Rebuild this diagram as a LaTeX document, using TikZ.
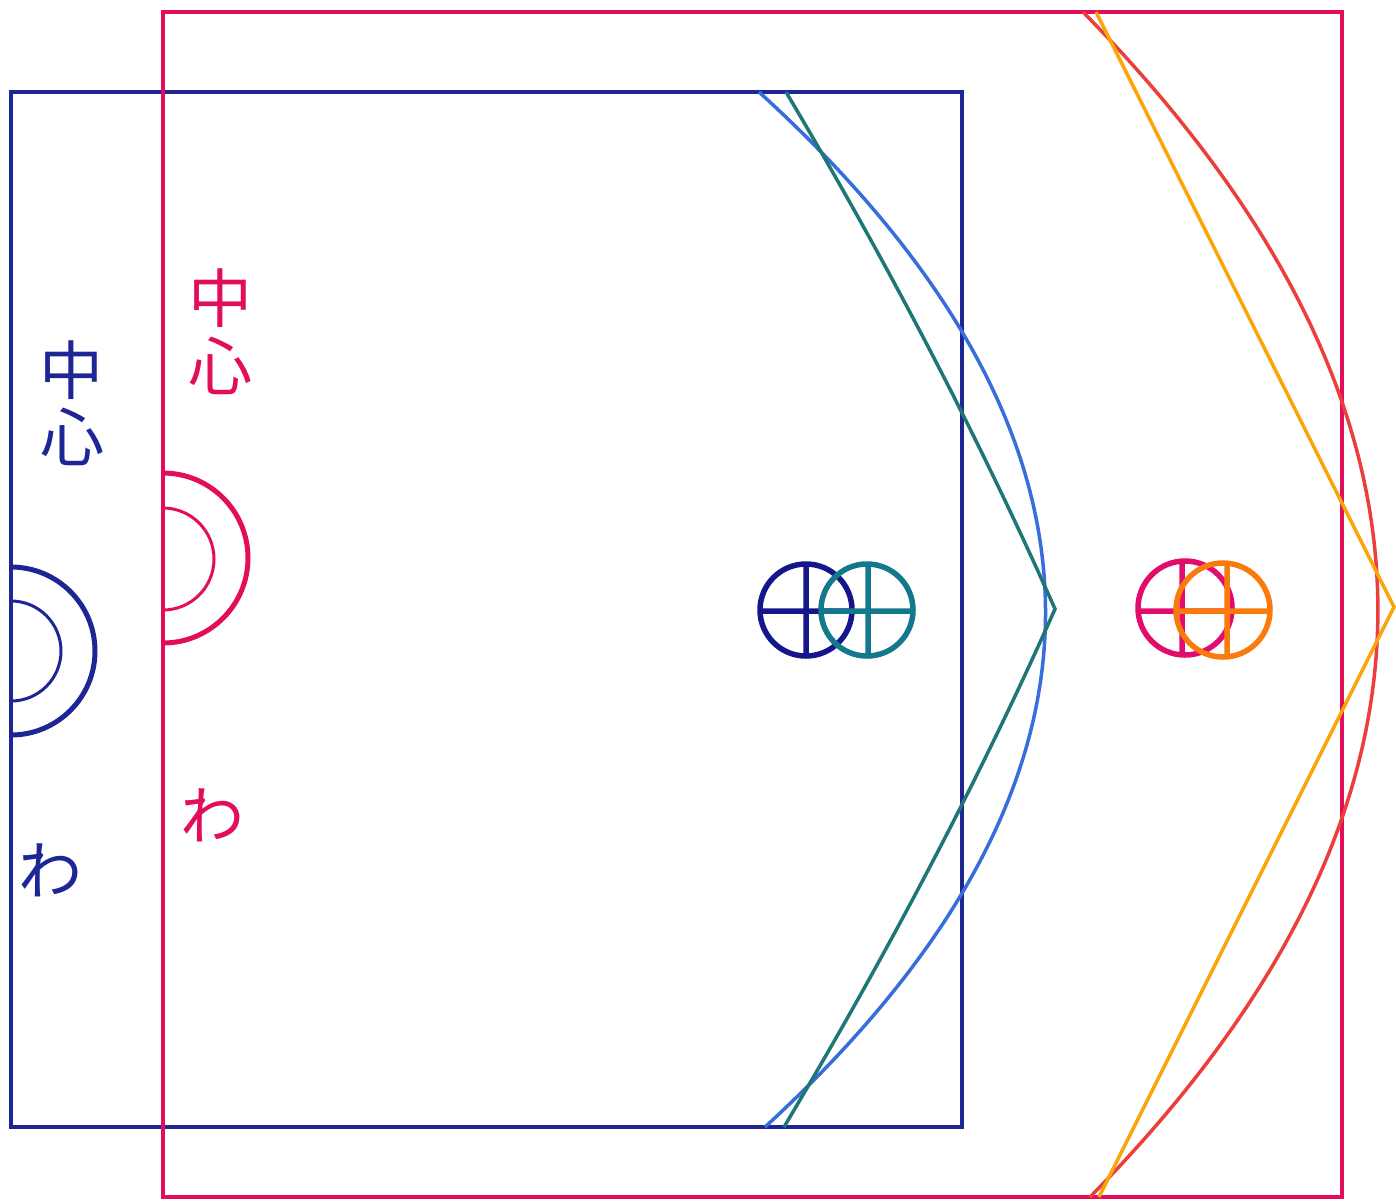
\documentclass[tikz,border=0pt]{standalone}
\usepackage{fontspec}
\newfontfamily\jpfont{Noto Sans CJK JP}
\definecolor{navyc}{RGB}{30,38,150}
\definecolor{pinkc}{RGB}{226,14,92}
\definecolor{skyc}{RGB}{55,110,220}
\definecolor{tealc}{RGB}{30,118,118}
\definecolor{redc}{RGB}{236,62,58}
\definecolor{orangec}{RGB}{250,165,10}
\definecolor{navysym}{RGB}{22,22,140}
\definecolor{tealsym}{RGB}{20,120,140}
\definecolor{pinksym}{RGB}{225,12,110}
\definecolor{orangesym}{RGB}{250,122,12}
\tikzset{
  frame/.style={line width=4.5pt},
  ringout/.style={line width=5pt},
  ringin/.style={line width=3pt},
  curve/.style={line width=3.5pt, line join=miter},
  symb/.style={line width=5.5pt},
  jtext/.style={inner sep=0pt, font=\jpfont\fontsize{64}{64}\selectfont},
}
\begin{document}
\begin{tikzpicture}[x=1pt,y=-1pt]
\useasboundingbox (0,0) rectangle (1396,1200);
% frames
\draw[frame, navyc] (11,92) rectangle (962,1127);
\draw[frame, pinkc] (163,12) rectangle (1342,1197);
% half rings
\draw[ringout, navyc] (11,567) arc[start angle=-90, end angle=90, radius=84];
\draw[ringin, navyc] (11,601) arc[start angle=-90, end angle=90, radius=50];
\draw[ringout, pinkc] (163,473) arc[start angle=-90, end angle=90, radius=85];
\draw[ringin, pinkc] (163,508) arc[start angle=-90, end angle=90, radius=51];
% texts
\node[jtext, text=navyc] (bnaka) at (71,370) {中};
\node[jtext, text=navyc] (bkoko) at (72,437) {心};
\node[jtext, text=navyc] (bwa) at (50,870) {わ};
\node[jtext, text=pinkc] (pnaka) at (220,298) {中};
\node[jtext, text=pinkc] (pkoko) at (220,366) {心};
\node[jtext, text=pinkc] (pwa) at (212,815) {わ};
% curves
\coordinate (bt) at (759,92);
\coordinate (bb) at (765,1127);
\coordinate (tt) at (786,92);
\coordinate (ta) at (1055,609);
\coordinate (tb) at (784,1127);
\draw[curve, skyc] (bt) .. controls (1139,438) and (1141,782) .. (bb);
\draw[curve, tealc] (tt) .. controls (888,264) and (978,436) .. (ta) .. controls (978,782) and (887,954) .. (tb);
\coordinate (rt) at (1083,12);
\coordinate (rb) at (1090,1197);
\coordinate (ot) at (1096,12);
\coordinate (oa) at (1394,607);
\coordinate (ob) at (1099,1197);
\draw[curve, redc] (rt) .. controls (1474,410) and (1476,805) .. (rb);
\draw[curve, orangec] (ot) -- (oa) -- (ob);
% symbols
\draw[symb, navysym] (806,610) circle[radius=46] (760,611) -- (852,611) (806,564) -- (806,656);
\draw[symb, tealsym] (867,610) circle[radius=46] (821,611) -- (913,611) (868,564) -- (868,656);
\draw[symb, pinksym] (1185,608) circle[radius=47] (1138,611) -- (1232,611) (1182,561) -- (1182,655);
\draw[symb, orangesym] (1223,610) circle[radius=47] (1176,611) -- (1270,611) (1227,563) -- (1227,657);
\end{tikzpicture}
\end{document}
